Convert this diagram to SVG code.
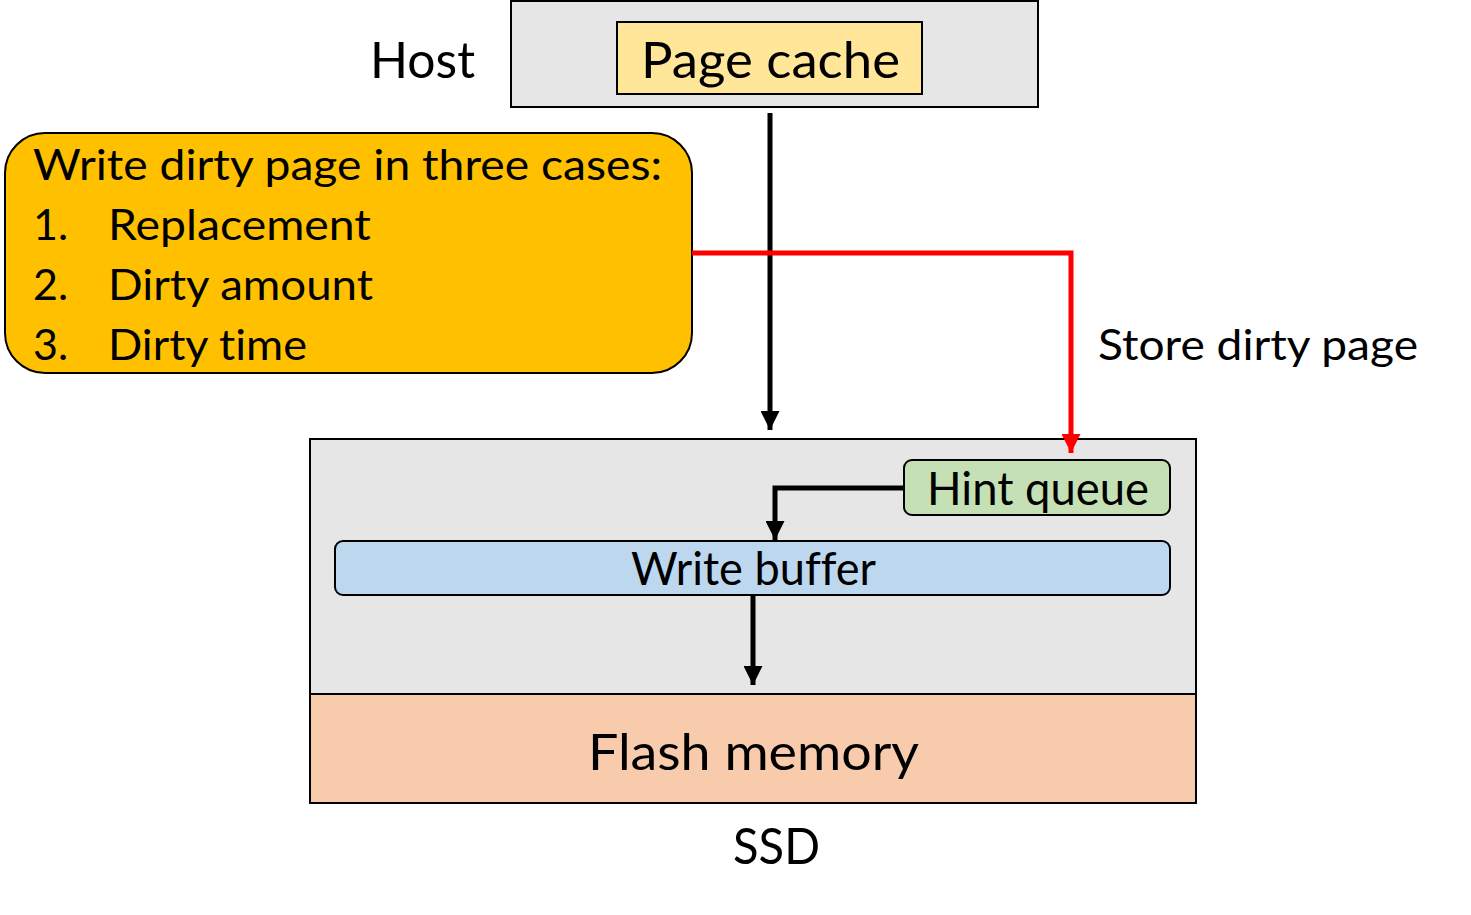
<svg xmlns="http://www.w3.org/2000/svg" width="1471" height="915" viewBox="0 0 1471 915">
<style>
text{font-family:Lato,"Open Sans",sans-serif;fill:#000;font-variant-ligatures:none}
.box{stroke:#000;stroke-width:2}
.wire{fill:none;stroke:#000;stroke-width:5}
.red{fill:none;stroke:#ff0000;stroke-width:5}
</style>
<defs>
<marker id="ah" viewBox="0 0 10 10" refX="10" refY="5" markerWidth="3.8" markerHeight="3.8" orient="auto" markerUnits="strokeWidth"><path d="M0,0 L10,5 L0,10 z" fill="#000"/></marker>
<marker id="ahr" viewBox="0 0 10 10" refX="10" refY="5" markerWidth="3.8" markerHeight="3.8" orient="auto" markerUnits="strokeWidth"><path d="M0,0 L10,5 L0,10 z" fill="#ff0000"/></marker>
</defs>
<g id="host-label"><text x="370" y="78" font-size="51" textLength="105" lengthAdjust="spacingAndGlyphs">Host</text></g>
<g id="host"><rect class="box" x="511" y="1" width="527" height="106" fill="#e6e6e6"/></g>
<g id="page-cache"><rect class="box" x="617" y="22" width="305" height="72" fill="#ffe699"/><text x="641" y="78" font-size="51" textLength="259" lengthAdjust="spacingAndGlyphs">Page cache</text></g>
<g id="cases"><rect class="box" x="5" y="133" width="687" height="240" rx="40" fill="#ffc000"/>
<text x="33" y="180" font-size="43" textLength="629" lengthAdjust="spacingAndGlyphs">Write dirty page in three cases:</text>
<text x="33" y="240" font-size="43">1.</text><text x="108" y="240" font-size="43" textLength="263" lengthAdjust="spacingAndGlyphs">Replacement</text>
<text x="33" y="300" font-size="43">2.</text><text x="108" y="300" font-size="43" textLength="265" lengthAdjust="spacingAndGlyphs">Dirty amount</text>
<text x="33" y="360" font-size="43">3.</text><text x="108" y="360" font-size="43" textLength="199" lengthAdjust="spacingAndGlyphs">Dirty time</text></g>
<g id="store-label"><text x="1098" y="360" font-size="43" textLength="320" lengthAdjust="spacingAndGlyphs">Store dirty page</text></g>
<g id="ssd"><rect class="box" x="310" y="439" width="886" height="255" fill="#e6e6e6"/></g>
<g id="flash"><rect class="box" x="310" y="694" width="886" height="109" fill="#f8cbad"/><text x="588" y="770" font-size="51" textLength="331" lengthAdjust="spacingAndGlyphs">Flash memory</text></g>
<g id="ssd-label"><text x="733" y="864" font-size="50" textLength="87" lengthAdjust="spacingAndGlyphs">SSD</text></g>
<g id="hint-queue"><rect class="box" x="904" y="460" width="266" height="55" rx="8" fill="#c5e0b4"/><text x="927" y="505" font-size="46" textLength="222" lengthAdjust="spacingAndGlyphs">Hint queue</text></g>
<g id="write-buffer"><rect class="box" x="335" y="541" width="835" height="54" rx="8" fill="#bdd7ee"/><text x="631" y="585" font-size="46" textLength="245" lengthAdjust="spacingAndGlyphs">Write buffer</text></g>
<g id="connectors">
<path class="wire" d="M770,113 V430" marker-end="url(#ah)"/>
<path class="red" d="M692,253 H1071 V453" marker-end="url(#ahr)"/>
<path class="wire" d="M904,488 H775 V540" marker-end="url(#ah)"/>
<path class="wire" d="M753,595 V685" marker-end="url(#ah)"/>
</g>
</svg>
